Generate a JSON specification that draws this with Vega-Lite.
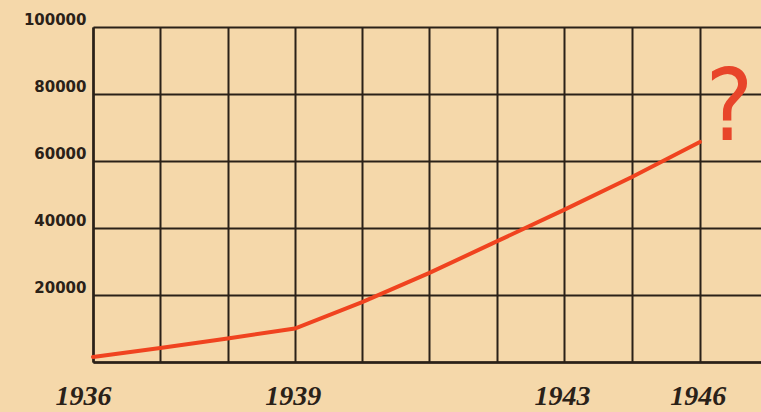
{
  "$schema": "https://vega.github.io/schema/vega-lite/v6.json",
  "width": 668,
  "height": 335,
  "autosize": {"type": "none"},
  "padding": {"left": 93, "top": 27, "right": 0, "bottom": 50},
  "background": "#f5d8aa",
  "config": {"view": {"stroke": null}},
  "datasets": {
    "series": [
      {"year": 1936, "value": 1500},
      {"year": 1937, "value": 4200},
      {"year": 1938, "value": 7000},
      {"year": 1939, "value": 10000},
      {"year": 1940, "value": 17900},
      {"year": 1941, "value": 26600},
      {"year": 1942, "value": 36000},
      {"year": 1943, "value": 45400},
      {"year": 1944.5, "value": 55200},
      {"year": 1946, "value": 65700}
    ],
    "note": [{"year": 1946.65, "value": 75200, "label": "?"}]
  },
  "encoding": {
    "x": {
      "field": "year",
      "type": "quantitative",
      "scale": {"domain": [1936, 1943, 1947.35], "range": [0, 471, 668], "nice": false, "zero": false},
      "axis": {
        "title": null,
        "values": [1936, 1937, 1938, 1939, 1940, 1941, 1942, 1943, 1944.5, 1946],
        "format": "d",
        "labelExpr": "(datum.value == 1936 || datum.value == 1939 || datum.value == 1943 || datum.value == 1946) ? datum.label : ''",
        "labelOffset": {"condition": {"test": "datum.value == 1936", "value": -10}, "value": -2},
        "ticks": false,
        "grid": true,
        "gridColor": "#2a2118",
        "gridWidth": 2,
        "gridOpacity": 1,
        "domain": true,
        "domainColor": "#2a2118",
        "domainWidth": 2.5,
        "labelFont": "Liberation Serif",
        "labelFontStyle": "italic",
        "labelFontWeight": "bold",
        "labelFontSize": 28,
        "labelColor": "#2a2118",
        "labelPadding": 20,
        "labelFlush": false,
        "labelOverlap": false
      }
    },
    "y": {
      "field": "value",
      "type": "quantitative",
      "scale": {"domain": [0, 100000], "nice": false},
      "axis": {
        "title": null,
        "values": [0, 20000, 40000, 60000, 80000, 100000],
        "format": "d",
        "labelExpr": "datum.value == 0 ? '' : datum.label",
        "ticks": false,
        "grid": true,
        "gridColor": "#2a2118",
        "gridWidth": 2,
        "gridOpacity": 1,
        "domain": true,
        "domainColor": "#2a2118",
        "domainWidth": 2.5,
        "labelFont": "DejaVu Sans",
        "labelFontWeight": "bold",
        "labelFontSize": 15,
        "labelColor": "#2a2118",
        "labelPadding": 7,
        "labelBaseline": "bottom"
      }
    }
  },
  "layer": [
    {
      "data": {"name": "series"},
      "mark": {"type": "line", "color": "#f0431f", "strokeWidth": 4, "strokeCap": "round"}
    },
    {
      "data": {"name": "note"},
      "mark": {"type": "text", "color": "#e8452a", "font": "DejaVu Sans Condensed", "fontSize": 100, "baseline": "middle", "align": "center"},
      "encoding": {"text": {"field": "label"}}
    }
  ]
}
